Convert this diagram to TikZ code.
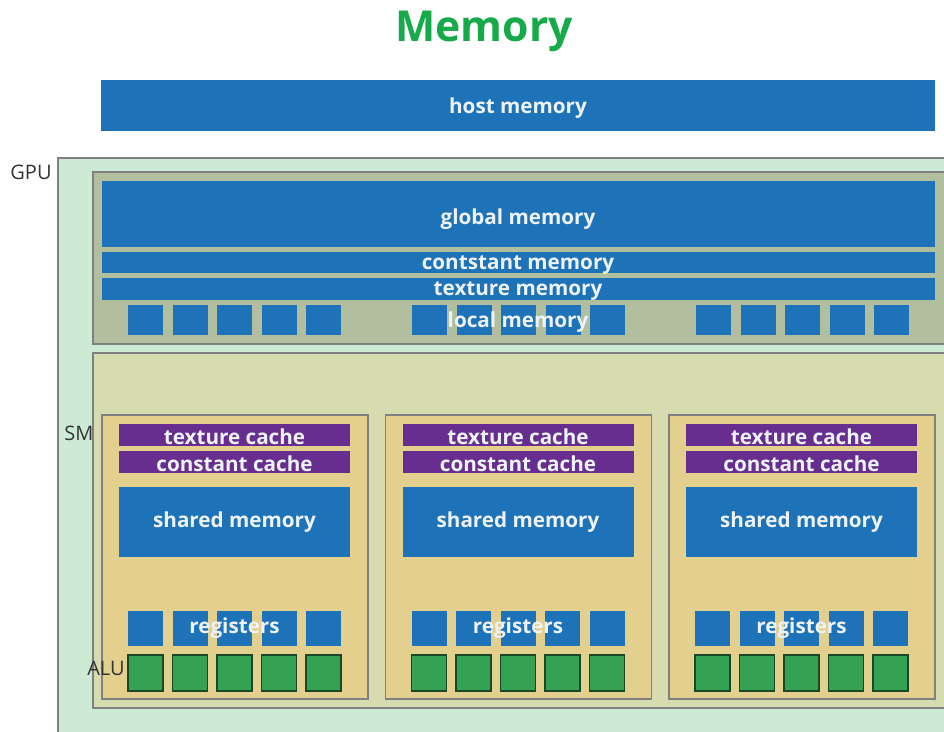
\documentclass[tikz,border=0pt]{standalone}
\usepackage{fontspec}
\setmainfont{Open Sans}
\definecolor{memblue}{HTML}{1E72B8}
\definecolor{cachepurple}{HTML}{672E90}
\definecolor{gpufill}{HTML}{CDEBD4}
\definecolor{globfill}{HTML}{B2BF9E}
\definecolor{smfill}{HTML}{D6DCB0}
\definecolor{blockfill}{HTML}{E3D08E}
\definecolor{alugreen}{HTML}{35A153}
\definecolor{titlegreen}{HTML}{16AA4A}
\definecolor{labelgray}{HTML}{333333}
\definecolor{labelwhite}{HTML}{EEF3FA}
\tikzset{
  memrect/.style={fill=memblue},
  cacherect/.style={fill=cachepurple},
  regsq/.style={fill=memblue},
  alusq/.style={fill=alugreen, draw=alugreen!45!black, line width=0.9pt},
  areabox/.style={draw=black!50, line width=0.8pt},
  lbl/.style={text=labelwhite, font=\bfseries\fontsize{15.5}{18}\selectfont, inner sep=0pt, yshift=-1.5pt},
  side/.style={text=labelgray, font=\fontsize{15}{18}\selectfont, inner sep=0pt}
}
\begin{document}
\begin{tikzpicture}[x=0.75pt, y=-0.75pt]
\useasboundingbox (0,0) rectangle (944,731);
% title
\node[text=titlegreen, font=\bfseries\fontsize{32}{38}\selectfont, inner sep=0pt, anchor=base] (title) at (484,42) {Memory};
% host memory
\fill[memrect] (101,80) rectangle (935,131);
\node[lbl] (host) at (518,106) {host memory};
% GPU
\filldraw[fill=gpufill, areabox] (58,158) rectangle (950,740);
\node[side] (gpu) at (31,172) {GPU};
% device-wide memories
\filldraw[fill=globfill, areabox] (93,172) rectangle (950,344);
\fill[memrect] (102,181) rectangle (935,247);
\node[lbl] (global) at (518,217) {global memory};
\fill[memrect] (102,252) rectangle (935,273);
\node[lbl] (const) at (518,263) {contstant memory};
\fill[memrect] (102,278) rectangle (935,300);
\node[lbl] (tex) at (518,289) {texture memory};
\foreach \g in {0,1,2}{
  \foreach \i in {0,...,4}{
    \fill[regsq] ({128+284*\g+44.5*\i},305) rectangle ++(35,30);
  }
}
\node[lbl] (local) at (518,320) {local memory};
% streaming multiprocessors
\filldraw[fill=smfill, areabox] (93,353) rectangle (950,708);
\node[side] (sm) at (79,433) {SM};
\foreach \b in {0,1,2}{
  \begin{scope}[xshift=\b*283.5*0.75pt]
    \filldraw[fill=blockfill, areabox] (102,415) rectangle (368,699);
    \fill[cacherect] (119,424) rectangle (350,446);
    \node[lbl] (texc\b) at (234.5,435) {texture cache};
    \fill[cacherect] (119,451) rectangle (350,473);
    \node[lbl] (constc\b) at (234.5,462) {constant cache};
    \fill[memrect] (119,487) rectangle (350,557);
    \node[lbl] (shared\b) at (234.5,520) {shared memory};
    \foreach \i in {0,...,4}{
      \fill[regsq] ({128+44.5*\i},611) rectangle ++(35,35);
      \filldraw[alusq] ({128+44.5*\i},655) rectangle ++(35,36);
    }
    \node[lbl] (reg\b) at (234.5,626) {registers};
  \end{scope}
}
\node[side] (alu) at (106,668) {ALU};
\end{tikzpicture}
\end{document}
